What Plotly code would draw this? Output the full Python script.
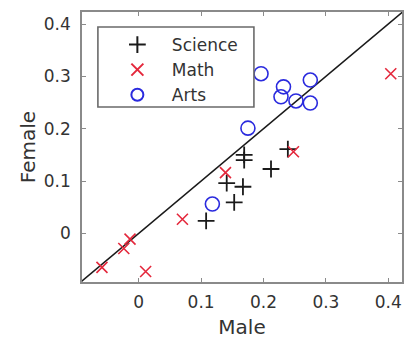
import plotly.graph_objects as go

# Score differences by gender for each field
science_male = [0.108, 0.141, 0.153, 0.167, 0.169, 0.169, 0.212, 0.239]
science_female = [0.024, 0.096, 0.059, 0.089, 0.150, 0.140, 0.123, 0.161]

math_male = [-0.059, -0.024, -0.014, 0.011, 0.070, 0.139, 0.248, 0.404]
math_female = [-0.065, -0.029, -0.011, -0.073, 0.027, 0.116, 0.156, 0.305]

arts_male = [0.118, 0.175, 0.196, 0.228, 0.232, 0.252, 0.275, 0.275]
arts_female = [0.056, 0.201, 0.305, 0.261, 0.280, 0.253, 0.293, 0.249]

# Axis limits and identity line
axis_lo, axis_hi = -0.091, 0.422
y_lo, y_hi = -0.093, 0.423
identity = [-0.1, 0.45]

tick_vals = [0, 0.1, 0.2, 0.3, 0.4]
tick_text = ["0", "0.1", "0.2", "0.3", "0.4"]

FONT = "DejaVu Sans"
TEXT = "#333333"
FRAME = "#8a8a8a"
BLACK = "#1a1a1a"
RED = "#e4283c"
BLUE = "#2a2ade"

fig = go.Figure()

fig.add_trace(go.Scatter(
    x=identity, y=identity, mode="lines",
    line=dict(color=BLACK, width=1.6),
    showlegend=False, hoverinfo="skip",
))

fig.add_trace(go.Scatter(
    x=science_male, y=science_female, mode="markers", name="Science",
    marker=dict(symbol="cross-thin-open", size=12, color=BLACK,
                line=dict(color=BLACK, width=1.8)),
))
fig.add_trace(go.Scatter(
    x=math_male, y=math_female, mode="markers", name="Math",
    marker=dict(symbol="x-thin-open", size=11, color=RED,
                line=dict(color=RED, width=1.6)),
))
fig.add_trace(go.Scatter(
    x=arts_male, y=arts_female, mode="markers", name="Arts",
    marker=dict(symbol="circle-open", size=14, color=BLUE,
                line=dict(color=BLUE, width=1.6)),
))

axis_common = dict(
    showline=True, linecolor=FRAME, linewidth=1.6, mirror="ticks",
    ticks="inside", ticklen=4, tickwidth=1, tickcolor=FRAME,
    showgrid=False, zeroline=False,
    tickvals=tick_vals, ticktext=tick_text,
    tickfont=dict(family=FONT, size=17, color=TEXT),
)

fig.update_xaxes(
    range=[axis_lo, axis_hi],
    title=dict(text="Male", font=dict(family=FONT, size=20, color=TEXT), standoff=10),
    ticklabelstandoff=4,
    **axis_common,
)
fig.update_yaxes(
    range=[y_lo, y_hi],
    title=dict(text="Female", font=dict(family=FONT, size=20, color=TEXT), standoff=3),
    ticklabelstandoff=6,
    **axis_common,
)

# Legend frame
fig.add_shape(
    type="rect", xref="paper", yref="paper",
    x0=(98 - 82) / 322, x1=(255 - 82) / 322,
    y0=1 - (107 - 12) / 270, y1=1 - (27 - 12) / 270,
    line=dict(color="#6a6a6a", width=1.6), fillcolor="white", layer="above",
)

fig.update_layout(
    width=406, height=339,
    margin=dict(l=82, r=2, t=12, b=57),
    paper_bgcolor="white", plot_bgcolor="white",
    legend=dict(
        x=(103 - 82) / 322, y=1 - (27 - 12) / 270,
        xanchor="left", yanchor="top",
        bgcolor="rgba(0,0,0,0)", borderwidth=0,
        font=dict(family=FONT, size=17, color=TEXT),
        itemsizing="constant", itemwidth=59,
    ),
)

fig.write_html("out.html")
